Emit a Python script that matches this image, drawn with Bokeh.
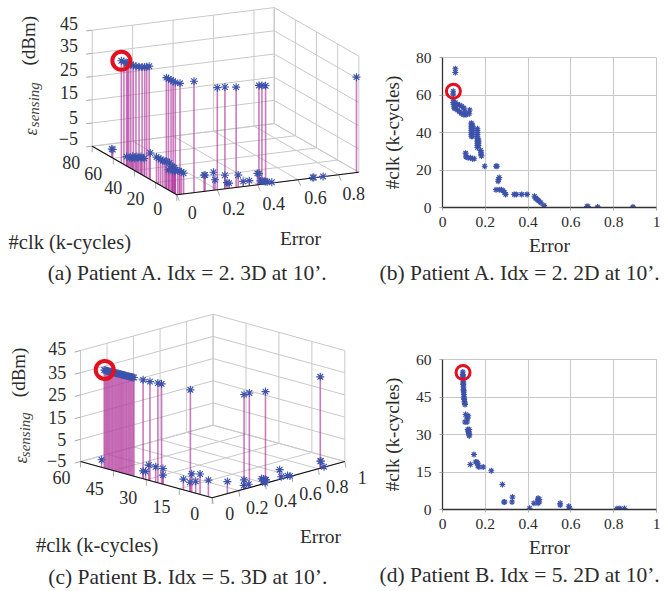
import numpy as np
from bokeh.plotting import figure
from bokeh.layouts import column, row
from bokeh.models import Range1d, Title, FixedTicker
from bokeh.core.properties import value
from bokeh.embed import file_html
from bokeh.resources import INLINE

FONT = "Liberation Serif"
TXT = "#2b2b2b"
GRID = "#c9c9c9"
STAR = "#3c52aa"
STEM = "#b23d9e"
RED = "#e3101e"

# ---------- Patient A, 2D
b_err = [0.06,0.06,0.05,0.05,0.05,0.05,0.052,0.055,0.055,0.06,0.06,0.07,0.08,0.09,0.10,0.11,0.125,0.127,0.07,0.08,0.09,0.10,0.105,
         0.135,0.135,0.135,0.135,0.135,0.135,0.135,0.135,0.14,0.14,0.14,0.14,0.14,0.14,0.14,
         0.163,0.163,0.163,0.163,0.163,0.163,0.163,0.163,0.163,0.163,0.163,0.168,0.168,0.168,0.168,
         0.178,0.18,0.18,0.182,0.108,0.11,0.12,0.13,0.14,0.148,0.197,0.25,0.255,0.26,0.262,0.265,
         0.25,0.265,0.275,0.283,0.29,0.295,0.335,0.345,0.37,0.395,0.43,0.435,0.44,0.445,0.45,0.46,0.475,0.675,0.68,0.725,0.89]
b_clk = [74,72,62,60.5,58,56,55,54,53,56,53,52,51,50,49.5,49.5,50,52,55,54.5,54,53,51,
         45,44,43,42,41,40,39,38,44,43,42,41,40,39,38,
         42,41,40,39,38,37,36,35,34,33,32,36,35,34,33,
         30.5,29.5,28.5,27.5,29,27,26.5,26.5,26,26,22,22,22,14,15,16,
         9.5,9.5,9.5,9,8,7,7,7,7,7,6,5,4.5,4,3.5,2.5,1,0.5,0.5,0.3,0.3]

# ---------- Patient A, 3D
a_err = [0.05,0.055,0.06,0.05,0.055,0.06,0.065,0.07,0.08,0.09,0.10,0.11,0.125,
         0.163,0.163,0.165,0.165,0.165,0.178,
         0.20,0.25,0.285,0.33,0.435,0.447,0.46,0.89,
         0.06,0.06,0.05,0.055,0.06,0.07,0.08,0.09,0.10,0.07,0.085,0.10,0.13,
         0.135,0.135,0.135,0.135,0.14,0.163,0.163,0.163,0.163,0.165,0.165,0.18,0.18,0.11,0.12,0.13,0.14,0.148,
         0.25,0.255,0.26,0.262,0.285,0.29,0.295,0.34,0.365,0.395,0.43,0.435,0.44,0.445,0.45,0.455,0.46,0.475,0.675,0.68,0.725]
a_clk = [62,60.5,58,57,56,55,53.5,52,51,50,49.5,49.5,50,
         41,39,37,35,33,31,
         22,9.5,9,7,5.5,5,4,0.3,
         73,72,57,55,54,53,52,51,50,55,54,53,50,
         45,43,41,39,38,41,38,35,33,36,34,30,28,29,27,26.5,26,26,
         22,22,15,14,9,8,7,7,7,7,6,5.5,5,4.5,3.5,3,2.5,1,0.5,0.5,0.3]
a_eps = [36,36,36,36,36,36,36,36,36,36,36,36,36,
         33,33,33,33,33,33,
         36,36,36,36,36,36,36,36,
         -5,-5,-4,-4,-4,-4,-3.5,-3.5,-3.5,-3.5,-3.5,-3.5,-1.5,
         -2,-2,-2,-2,-2,-3,-3,-4,-5,-4,-4,-5,-5,-3,-3,-3,-3,-3,
         -5,-5,-2,-5,-2,-5,-5,-2,-5,-5,-2,-2,-5,-5,-5,-5,-5,-5,-5,-5,-5]

# ---------- Patient B, 2D
d_err = [0.095,0.095,0.096,0.096,0.097,0.097,0.098,0.098,0.099,0.10,0.10,0.101,0.103,0.105,0.095,0.097,0.099,0.101,0.104,
         0.108,0.12,0.105,0.115,0.118,0.113,0.118,0.12,0.122,0.123,0.125,0.125,0.125,
         0.147,0.13,0.155,0.16,0.165,0.165,0.17,0.19,0.228,0.28,0.29,0.287,0.327,0.325,0.407,0.427,
         0.447,0.447,0.447,0.447,0.447,0.452,0.452,0.55,0.55,0.59,0.595,0.815,0.825,0.83,0.85]
d_clk = [55,54,53,52,51,50,49,48,47,46,45,44,43,42,53.5,50.5,47.5,44.5,42.5,
         38,37.5,35,35,36.5,37,32,31.5,31,30.5,30,29.5,32,
         22,18,19,19,18.5,17.5,17,17,15.5,10,3,3,5,3,0.5,2.5,
         2.5,3,3.5,4,4.5,3,4,2.5,1.8,1.3,0.5,0.3,0.3,0.3,0.4]

# ---------- Patient B, 3D
c_err = [0.096,0.096,0.096,0.097,0.097,0.097,0.098,0.098,0.098,0.099,0.099,0.099,0.10,0.10,0.10,0.10,0.10,0.10,0.10,0.101,0.101,0.102,0.102,0.103,0.103,0.104,0.105,
         0.108,0.11,0.12,0.123,0.15,0.29,0.33,0.41,0.82,
         0.103,0.108,0.11,0.118,0.12,0.125,0.125,0.147,0.16,0.165,0.19,0.13,0.228,0.28,0.29,0.287,0.325,0.407,0.427,0.447,0.447,0.447,0.452,0.452,0.55,0.55,0.59,0.595,0.82,0.825,0.85]
c_clk = [55,54.5,54,53.5,53,52.5,52,51.5,51,50.5,50,49.5,49,48.5,48,47.5,47,46.5,46,45.5,45,44.5,44,43.5,43,42.5,42,
         38,35,32,30.5,19,3,3,0.5,0.3,
         56.6,38,37,36,33,30,30,22,19,17.5,17,18,15.5,10,3,3,3,0.5,2.5,2.5,3.5,4.5,3,4,2.5,1.8,1.3,0.5,0.3,0.3,0.4]
c_eps = [36,36,36,36,36,36,36,36,36,36,36,36,36,36,36,36,36,36,36,36,36,36,36,36,36,36,36,
         36,36,36,36,36,36,36,36,36,
         -5,-5,-5,-2,-2,-2,-5,-5,-2,-5,-2,-5,-5,-5,-2.5,-5,-5,-5,-5,-5,-5,-5,-5,-5,-2,-5,-5,-5,-2,-2,-5]

z_ticks = [-5, 5, 15, 25, 35, 45]
z_labels = ["\u22125", "5", "15", "25", "35", "45"]
a_err_ticks = [0, 0.2, 0.4, 0.6, 0.8]
a_clk_ticks = [0, 20, 40, 60, 80]
c_err_ticks = [0, 0.2, 0.4, 0.6, 0.8, 1]
c_clk_ticks = [0, 15, 30, 45, 60]
tick2d_x = [0, 0.2, 0.4, 0.6, 0.8, 1]


def panel3d(win, F, L, R, zh, emax, cmax, eticks, cticks, err, clk, eps,
            zpos, cpos, epos, tick_dir, hl, eps_pos, caption, clk_pos, err_pos, cap_pos):
    x0, x1, y0, y1 = win
    p = figure(width=x1 - x0, height=y1 - y0, x_range=Range1d(x0, x1), y_range=Range1d(y1, y0),
               output_backend="svg", toolbar_location=None, min_border=0, frame_align=False,
               x_axis_type=None, y_axis_type=None, outline_line_color=None)
    p.grid.visible = False
    F, L, R = np.array(F, float), np.array(L, float), np.array(R, float)
    Ev, Cv = R - F, L - F

    def proj(e, c, z):
        e, c, z = np.asarray(e, float), np.asarray(c, float), np.asarray(z, float)
        px = F[0] + e / emax * Ev[0] + c / cmax * Cv[0]
        py = F[1] + e / emax * Ev[1] + c / cmax * Cv[1] - (z + 5) / 50 * zh
        return px, py

    gx0, gy0, gx1, gy1 = [], [], [], []
    def seg(a, b):
        ax, ay = proj(*a); bx, by = proj(*b)
        gx0.append(float(ax)); gy0.append(float(ay)); gx1.append(float(bx)); gy1.append(float(by))
    all_e = list(eticks) + ([emax] if emax not in eticks else [])
    for z in z_ticks:
        seg((0, cmax, z), (emax, cmax, z))
        seg((emax, cmax, z), (emax, 0, z))
    for e in all_e:
        seg((e, cmax, -5), (e, cmax, 45))
        seg((e, 0, -5), (e, cmax, -5))
    for c in cticks:
        seg((emax, c, -5), (emax, c, 45))
        seg((0, c, -5), (emax, c, -5))
    p.segment(gx0, gy0, gx1, gy1, line_color=GRID, line_width=1)

    # tick marks, outside the box
    tx0, ty0, tx1, ty1 = [], [], [], []
    for e in eticks:
        ax, ay = proj(e, 0, -5)
        tx0.append(float(ax)); ty0.append(float(ay)); tx1.append(float(ax) + tick_dir[0]); ty1.append(float(ay) + tick_dir[1])
    for c in cticks:
        ax, ay = proj(0, c, -5)
        tx0.append(float(ax)); ty0.append(float(ay)); tx1.append(float(ax)); ty1.append(float(ay) + 6)
    for z in z_ticks:
        ax, ay = proj(0, cmax, z)
        u = Ev / np.hypot(*Ev)
        tx0.append(float(ax)); ty0.append(float(ay)); tx1.append(float(ax) - 6 * u[0]); ty1.append(float(ay) - 6 * u[1])
    p.segment(tx0, ty0, tx1, ty1, line_color="#aaaaaa", line_width=1)

    # stems run down to the lower outline of the box
    sx, sy = proj(err, clk, eps)
    by = np.interp(sx, [L[0], F[0], R[0]], [L[1], F[1], R[1]])
    p.segment(sx, sy, sx, by, line_color=STEM, line_alpha=0.68, line_width=1.6)

    p.line([L[0], F[0], R[0]], [L[1], F[1], R[1]], line_color="#111111", line_width=1.1)
    p.scatter(sx, sy, marker="asterisk", size=8, line_color=STAR, line_width=1.1)

    cx, cy = proj(*hl)
    p.scatter([float(cx)], [float(cy)], marker="circle", size=18, fill_color=None, line_color=RED, line_width=4)

    def txt(x, y, s, size, align="center", angle=0.0, style="normal", color=TXT):
        p.text([x], [y], text=[s], text_font=value(FONT), text_font_size=f"{size}px", text_align=align,
               text_baseline="middle", angle=angle, text_color=color, text_font_style=style)

    for s, (x, y) in zip(z_labels, zpos):
        txt(x, y, s, 18, "right")
    for t, (x, y) in zip(cticks[::-1], cpos):
        txt(x, y, str(t), 18)
    for t, (x, y) in zip(eticks, epos):
        txt(x, y, f"{t:g}", 18)
    txt(eps_pos[0][0], eps_pos[0][1], "\u03b5", 18, "left", np.pi / 2, "italic", "#444444")
    txt(eps_pos[1][0], eps_pos[1][1], "sensing", 15, "left", np.pi / 2, "italic", "#444444")
    txt(eps_pos[2][0], eps_pos[2][1], "(dBm)", 19, "left", np.pi / 2)
    txt(clk_pos[0], clk_pos[1], "#clk (k-cycles)", 20.5)
    txt(err_pos[0], err_pos[1], "Error", 19.5)
    txt(cap_pos[0], cap_pos[1], caption, 21.5)
    return p


def panel2d(w, h, bord, err, clk, ymax, yticks, hl, caption, cap_standoff):
    p = figure(width=w, height=h, x_range=Range1d(0, 1), y_range=Range1d(0, ymax),
               output_backend="svg", toolbar_location=None, frame_align=False,
               min_border_left=bord[0], min_border_right=bord[1], min_border_top=bord[2], min_border_bottom=bord[3],
               x_axis_label="Error", y_axis_label="#clk (k-cycles)")
    p.outline_line_color = GRID
    p.grid.grid_line_color = GRID
    p.grid.grid_line_width = 1.1
    p.xaxis.ticker = FixedTicker(ticks=tick2d_x)
    p.yaxis.ticker = FixedTicker(ticks=yticks)
    p.xaxis.major_label_overrides = {t: f"{t:g}" for t in tick2d_x}
    for ax in (p.xaxis[0], p.yaxis[0]):
        ax.major_label_text_font = FONT
        ax.major_label_text_font_size = "15.5px"
        ax.major_label_text_color = TXT
        ax.axis_label_text_font = FONT
        ax.axis_label_text_font_style = "normal"
        ax.axis_label_text_color = TXT
        ax.major_tick_in = 0
        ax.major_tick_out = 3
        ax.major_tick_line_color = "#aaaaaa"
        ax.minor_tick_line_color = None
        ax.axis_line_color = "#333333"
        ax.axis_line_width = 1.3
    p.xaxis.axis_label_text_font_size = "19.5px"
    p.yaxis.axis_label_text_font_size = "19px"
    p.xaxis.axis_label_standoff = 5
    p.yaxis.axis_label_standoff = 10
    p.xaxis.major_label_standoff = 6
    p.yaxis.major_label_standoff = 8
    p.scatter(err, clk, marker="asterisk", size=6, line_color=STAR, line_width=1.2)
    p.scatter([hl[0]], [hl[1]], marker="circle", size=14, fill_color=None, line_color=RED, line_width=3)
    p.add_layout(Title(text=caption, align="left", offset=-63, text_font=FONT, text_font_size="21.5px",
                       text_font_style="normal", text_color=TXT, standoff=cap_standoff), "below")
    return p


pa = panel3d((0, 370, 0, 290), (176.3, 194.3), (91.7, 145.7), (358.3, 171.7), 116, 0.9, 80,
             a_err_ticks, a_clk_ticks, a_err, a_clk, a_eps,
             [(77.5, 138), (77.5, 116.5), (77.5, 92), (77.5, 69), (77.5, 45), (77.5, 22.7)],
             [(70.7, 161.7), (92.7, 173.3), (112.7, 186.7), (135, 198.3), (157.3, 208.3)],
             [(191.7, 211.7), (233.3, 208.3), (273.3, 203.3), (315, 196.7), (353.3, 192.7)],
             (2.5, 6), (0.05, 62, 36),
             [(30, 135), (33, 126.7), (28, 65)],
             "(a) Patient A. Idx = 2. 3D at 10\u2019.", (69.3, 241.7), (300, 238.3), (187.3, 272.7))

pc = panel3d((0, 370, 290, 591), (211.7, 497.3), (80, 461), (344.3, 461), 111, 1, 60,
             c_err_ticks, c_clk_ticks, c_err, c_clk, c_eps,
             [(65.7, 460), (65.7, 439.3), (65.7, 416.7), (65.7, 394.3), (65.7, 371.7), (65.7, 348.3)],
             [(61, 476.7), (94.3, 488.3), (127.7, 496.7), (161, 505.7), (194.3, 513.3)],
             [(229.3, 513.3), (256.7, 506.7), (285, 500), (310, 493.3), (336.7, 486), (361.7, 476.7)],
             (1, 6), (0.1, 55, 36),
             [(20, 463), (24, 456.7), (18, 396.7)],
             "(c) Patient B. Idx = 5. 3D at 10\u2019.", (96.7, 544), (320, 535.7), (187.3, 576))

pb = panel2d(295, 290, (72, 9, 57, 83), b_err, b_clk, 80, [0, 20, 40, 60, 80], (0.051, 62),
             "(b) Patient A. Idx = 2. 2D at 10\u2019.", 0)
pd = panel2d(295, 301, (72, 9, 69, 82), d_err, d_clk, 60, [0, 15, 30, 45, 60], (0.096, 54.8),
             "(d) Patient B. Idx = 5. 2D at 10\u2019.", 1)

layout = column(row(pa, pb), row(pc, pd))
open("out.html", "w").write(file_html(layout, INLINE))
